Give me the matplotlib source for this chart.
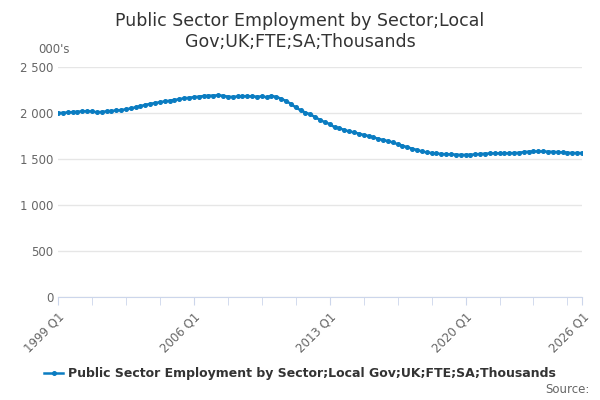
import numpy as np
import matplotlib.pyplot as plt
from matplotlib.ticker import FuncFormatter, FixedLocator

# 季度数据 1999 Q1 - 2026 Q1
values = [
    2000, 2002, 2006, 2010, 2014, 2018, 2020, 2017, 2008, 2012,
    2018, 2022, 2028, 2032, 2040, 2050, 2062, 2075, 2088, 2100,
    2108, 2118, 2126, 2134, 2142, 2150, 2160, 2166, 2172, 2178,
    2184, 2188, 2190, 2192, 2188, 2178, 2175, 2180, 2182, 2184,
    2180, 2178, 2180, 2172, 2186, 2175, 2155, 2130, 2100, 2060,
    2030, 2005, 1985, 1955, 1925, 1900, 1880, 1845, 1835, 1815,
    1800, 1790, 1775, 1762, 1750, 1735, 1720, 1707, 1695, 1680,
    1662, 1645, 1628, 1612, 1598, 1582, 1572, 1565, 1560, 1555,
    1552, 1550, 1548, 1545, 1545, 1547, 1550, 1555, 1558, 1560,
    1562, 1562, 1563, 1563, 1565, 1568, 1575, 1580, 1582, 1583,
    1582, 1580, 1578, 1575, 1572, 1568, 1566, 1565, 1565,
]
quarters = [f"{1999 + i // 4} Q{i % 4 + 1}" for i in range(len(values))]
label_idx = [0, 28, 56, 84, 108]
series_name = "Public Sector Employment by Sector;Local Gov;UK;FTE;SA;Thousands"
title = "Public Sector Employment by Sector;Local\nGov;UK;FTE;SA;Thousands"

x = np.arange(len(values))

fig = plt.figure(figsize=(6, 4), dpi=100)
ax = fig.add_axes([0.0967, 0.2575, 0.8733, 0.575])

ax.plot(x, values, color='#0a7cc1', linewidth=1.8, marker='o', markersize=2.6,
        label=series_name)

ax.set_xlim(0, len(values) - 1)
ax.set_ylim(0, 2500)
ax.set_yticks(np.arange(0, 2501, 500))
ax.yaxis.set_major_formatter(FuncFormatter(lambda v, p: f"{int(v):,}".replace(",", " ")))
ax.grid(axis='y', color='#e6e6e6', linewidth=1)
ax.set_axisbelow(True)

ax.set_xticks(label_idx)
ax.set_xticklabels([quarters[i] for i in label_idx], rotation=45, ha='right',
                   rotation_mode='anchor', color='#666666', fontsize=8.5)
minor = [i for i in range(0, len(values), 7) if i not in label_idx] + [108]
ax.xaxis.set_minor_locator(FixedLocator(minor))
ax.tick_params(axis='x', which='both', length=6, color='#ccd6eb', direction='out')
ax.tick_params(axis='y', length=0, colors='#666666', labelsize=8.5)

for s in ['top', 'right', 'left']:
    ax.spines[s].set_visible(False)
ax.spines['bottom'].set_color('#ccd6eb')

fig.text(0.5, 0.97, title, ha='center', va='top', fontsize=12.5, color='#333333')
fig.text(0.063, 0.86, "000's", ha='left', va='bottom', fontsize=8.5, color='#666666')
fig.text(0.982, 0.01, "Source:", ha='right', va='bottom', fontsize=8.5, color='#666666')

leg = fig.legend(loc='center', bbox_to_anchor=(0.5, 0.065), frameon=False,
                 prop={'weight': 'bold', 'size': 9}, handlelength=1.5, handletextpad=0.4)
for t in leg.get_texts():
    t.set_color('#333333')

fig.savefig('out.png', dpi=100)
